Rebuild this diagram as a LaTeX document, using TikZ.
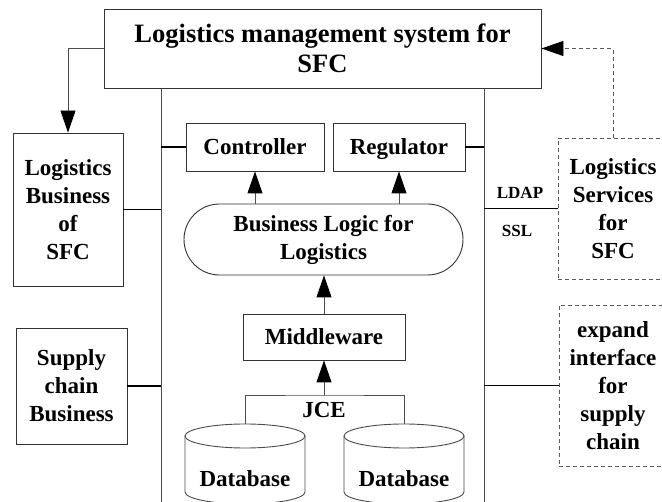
\documentclass[tikz,border=0pt]{standalone}
\usepackage{fontspec}
\setmainfont{Liberation Serif}
\usetikzlibrary{arrows.meta,calc}
\begin{document}
\begin{tikzpicture}[x=1pt,y=1pt,
  txt/.style={font=\fontsize{23}{28}\selectfont\bfseries, align=center, inner sep=0pt},
  box/.style={txt, draw=black!80, line width=0.9pt, rectangle},
  one/.style={text height=18pt, text depth=3pt},
  dbox/.style={box, draw=black!65, dash pattern=on 4pt off 3pt},
  wire/.style={draw=black!70, line width=0.9pt},
  thick1/.style={draw=black, line width=2.6pt},
  thick2/.style={draw=black, line width=1.7pt},
  arr/.style={wire, -{Triangle[length=22pt,width=15pt,color=black]}},
  darr/.style={draw=black!65, line width=0.9pt, dash pattern=on 4pt off 3pt, -{Triangle[length=22pt,width=15pt,color=black]}},
  small/.style={font=\fontsize{17}{20}\selectfont\bfseries, inner sep=0pt}
]
\useasboundingbox (0,0) rectangle (662,-502);
\fill[white] (0,0) rectangle (662,-502);

% vertical bus lines
\coordinate (vlt) at (161,-88);
\coordinate (vlb) at (161,-502);
\coordinate (vrt) at (484,-88);
\coordinate (vrb) at (484,-502);
\draw[wire] (vlt) -- (vlb);
\draw[wire] (vrt) -- (vrb);

% top box
\node[box, font=\fontsize{26.5}{30}\selectfont\bfseries, minimum width=437pt, minimum height=79pt] (top) at (322.5,-48.5)
  {Logistics management system for\\SFC};

% left boxes
\node[box, minimum width=110pt, minimum height=153pt] (lb) at (68,-209.5)
  {Logistics\\Business\\of\\SFC};
\node[box, minimum width=111pt, minimum height=116pt] (sc) at (71.5,-386)
  {Supply\\chain\\Business};

% right dashed boxes
\node[dbox, minimum width=110pt, minimum height=141pt] (ls) at (613,-208.5)
  {Logistics\\Services\\for\\SFC};
\node[dbox, minimum width=108pt, minimum height=161pt] (ex) at (613,-385.5)
  {expand\\interface\\for\\supply\\chain};

% inner boxes
\node[box, one, minimum width=138pt, minimum height=48pt] (ctrl) at (255,-147) {Controller};
\node[box, one, minimum width=132pt, minimum height=48pt] (reg) at (399,-147) {Regulator};
\node[box, minimum width=279pt, minimum height=71pt, rounded corners=35.5pt] (logic) at (323.5,-239.5)
  {Business Logic for\\Logistics};
\node[box, one, minimum width=162pt, minimum height=46pt] (mw) at (324,-337) {Middleware};

% databases
\foreach \n/\cx in {db1/245, db2/404}{
  \draw[wire] (\cx,-436) ellipse [x radius=60pt, y radius=12pt];
  \draw[wire] (\cx-60,-436) -- (\cx-60,-492) arc[start angle=180, end angle=360, x radius=60pt, y radius=12pt] -- (\cx+60,-436);
  \coordinate (\n top) at (\cx,-424);
  \node[txt] (\n) at (\cx,-479) {Database};
}

% JCE
\coordinate (jce) at (324,-395);
\node[txt] (jcet) at (324,-410) {JCE};
\draw[wire] (db1top) |- (jce) -| (db2top);
\draw[arr] (jce) -- (mw.south);

% labels
\node[small] (ldap) at (520,-193) {LDAP};
\node[small] (ssl) at (517,-231) {SSL};

% connectors
\draw[arr] (top.west) -| (lb.north);
\draw[darr] (ls.north) |- (top.east);
\draw[thick1] (ctrl.west) -- (ctrl.west -| vlt);
\draw[thick1] (reg.east) -- (reg.east -| vrt);
\draw[thick2] (lb.east) -- (lb.east -| vlt);
\draw[thick2] (sc.east) -- (sc.east -| vlt);
\draw[thick2] (ls.west) -- (ls.west -| vrt);
\draw[thick2] (ex.west) -- (ex.west -| vrt);
\draw[arr] (ctrl.south |- logic.north) -- (ctrl.south);
\draw[arr] (reg.south |- logic.north) -- (reg.south);
\draw[arr] (mw.north) -- (mw.north |- logic.south);
\end{tikzpicture}
\end{document}
